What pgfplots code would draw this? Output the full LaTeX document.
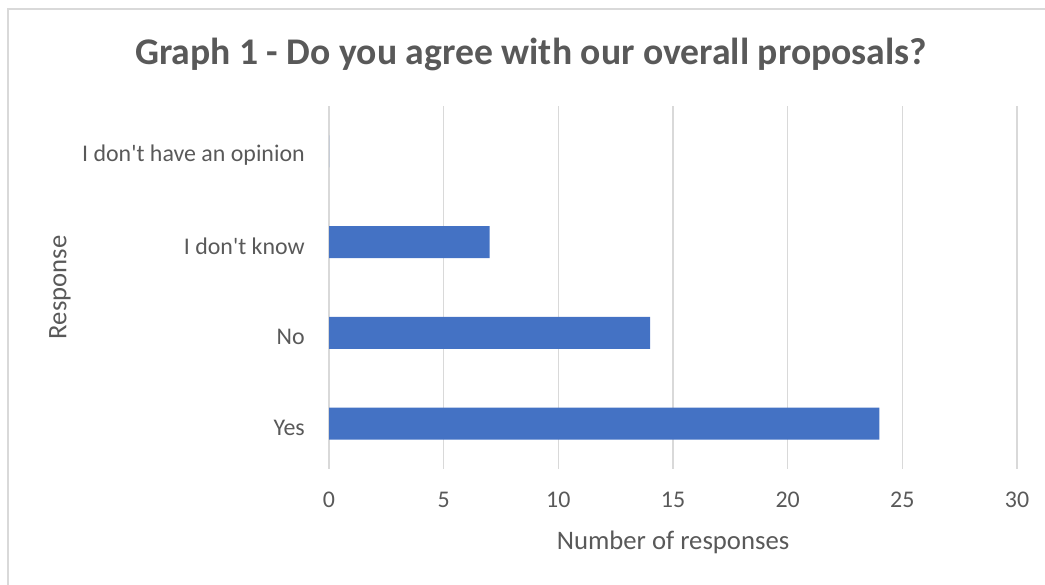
\documentclass[border=0pt]{standalone}
\usepackage{pgfplots}
\pgfplotsset{compat=1.18}
\usepackage{fontspec}
\setmainfont{Carlito}
\definecolor{txt}{HTML}{595959}
\definecolor{grd}{HTML}{D9D9D9}
\definecolor{bar}{HTML}{4472C4}
\begin{document}
\begin{tikzpicture}[x=1bp,y=1bp]
\useasboundingbox (0,0) rectangle (1045,585);
\draw[grd,line width=1.5bp] (8,-5) -- (8,576) -- (1050,576);
\node[txt,font=\fontsize{37.8}{44}\selectfont\bfseries,anchor=base west,inner sep=0pt] at (135,520) {Graph 1 - Do you agree with our overall proposals?};
\begin{axis}[
  at={(329bp,116bp)}, anchor=south west,
  scale only axis, width=688bp, height=363bp,
  xbar, bar width=32bp,
  xmin=0, xmax=30, ymin=-0.5, ymax=3.5,
  xtick={0,5,...,30},
  ytick={0,1,2,3},
  yticklabels={Yes,No,I don\textquotesingle t know,I don\textquotesingle t have an opinion},
  axis line style={draw=none},
  major tick length=0pt,
  xmajorgrids, major grid style={grd,line width=1.5bp},
  tick label style={txt,font=\fontsize{24}{28}\selectfont},
  /pgf/number format/assume math mode=true,
  xticklabel style={anchor=center,yshift=-31bp},
  yticklabel style={anchor=east,xshift=-20.7bp,yshift=-4bp},
  xlabel={Number of responses},
  ylabel={Response},
  label style={txt,font=\fontsize{26.8}{30}\selectfont},
  xlabel style={at={(axis description cs:0.5,-0.201)},anchor=center},
  ylabel style={at={(axis description cs:-0.391,0.5)},anchor=center,rotate=0},
]
\addplot[fill=bar,draw=none] coordinates {(24,0) (14,1) (7,2) (0,3)};
\end{axis}
\end{tikzpicture}
\end{document}
